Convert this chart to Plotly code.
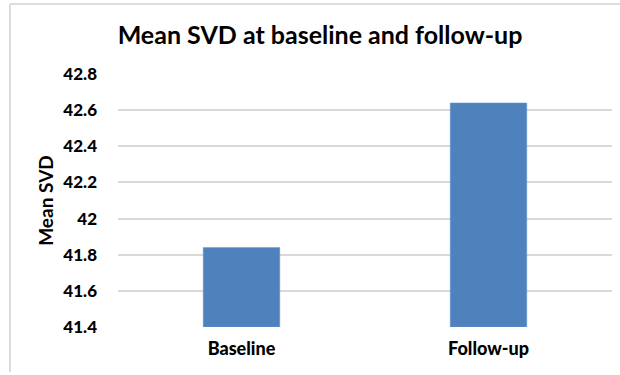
import plotly.graph_objects as go

# Mean SVD values per time point
categories = ["Baseline", "Follow-up"]
mean_svd = [41.84, 42.64]
axis_floor = 41.4
tick_values = [41.4, 41.6, 41.8, 42.0, 42.2, 42.4, 42.6, 42.8]
tick_labels = ["41.4", "41.6", "41.8", "42", "42.2", "42.4", "42.6", "42.8"]

W, H = 620, 375
ML, MR, MT, MB = 118, 8, 74, 48
plot_w = W - ML - MR
plot_h = H - MT - MB

font_family = "Lato, Carlito, Calibri, sans-serif"

# bars start at the axis floor, so the heights are measured from it
fig = go.Figure(
    go.Bar(
        x=categories,
        y=[v - axis_floor for v in mean_svd],
        base=axis_floor,
        width=0.31,
        marker=dict(color="#4F81BD", line=dict(color="#6f9bd0", width=0.5)),
    )
)

fig.update_layout(
    width=W,
    height=H,
    margin=dict(l=ML, r=MR, t=MT, b=MB),
    paper_bgcolor="white",
    plot_bgcolor="white",
    showlegend=False,
    title=dict(
        text="<b>Mean SVD at baseline and follow-up</b>",
        x=(320 - ML) / plot_w,
        xref="paper",
        xanchor="center",
        y=1 - 35 / H,
        yanchor="middle",
        yref="container",
        font=dict(family=font_family, size=25, color="#000000"),
    ),
    font=dict(family=font_family, color="#000000"),
)

fig.update_xaxes(
    range=[-0.5, 1.5],
    showgrid=False,
    showline=False,
    ticks="",
    tickfont=dict(family=font_family, size=18, color="#000000", weight=900),
    ticklabelstandoff=9,
)

fig.update_yaxes(
    range=[axis_floor, 42.8],
    tickvals=tick_values,
    ticktext=tick_labels,
    showgrid=True,
    gridcolor="#d9d9d9",
    gridwidth=1.5,
    zeroline=False,
    showline=False,
    ticks="",
    tickfont=dict(family=font_family, size=17, color="#000000", weight=900),
    ticklabelstandoff=20,
    title=dict(
        text="<b>Mean SVD</b>",
        font=dict(family=font_family, size=19, color="#000000"),
        standoff=4,
    ),
)

# thin frame on the left and top edges
x_left = (10 - ML) / plot_w
y_top = 1 + (MT - 4) / plot_h
y_bottom = -(MB - 3) / plot_h
fig.add_shape(type="line", xref="paper", yref="paper",
              x0=x_left, x1=x_left, y0=y_bottom, y1=y_top,
              line=dict(color="#d0d0d0", width=1.5))
fig.add_shape(type="line", xref="paper", yref="paper",
              x0=x_left, x1=1 + MR / plot_w, y0=y_top, y1=y_top,
              line=dict(color="#d0d0d0", width=1.5))

fig.write_html("out.html")
